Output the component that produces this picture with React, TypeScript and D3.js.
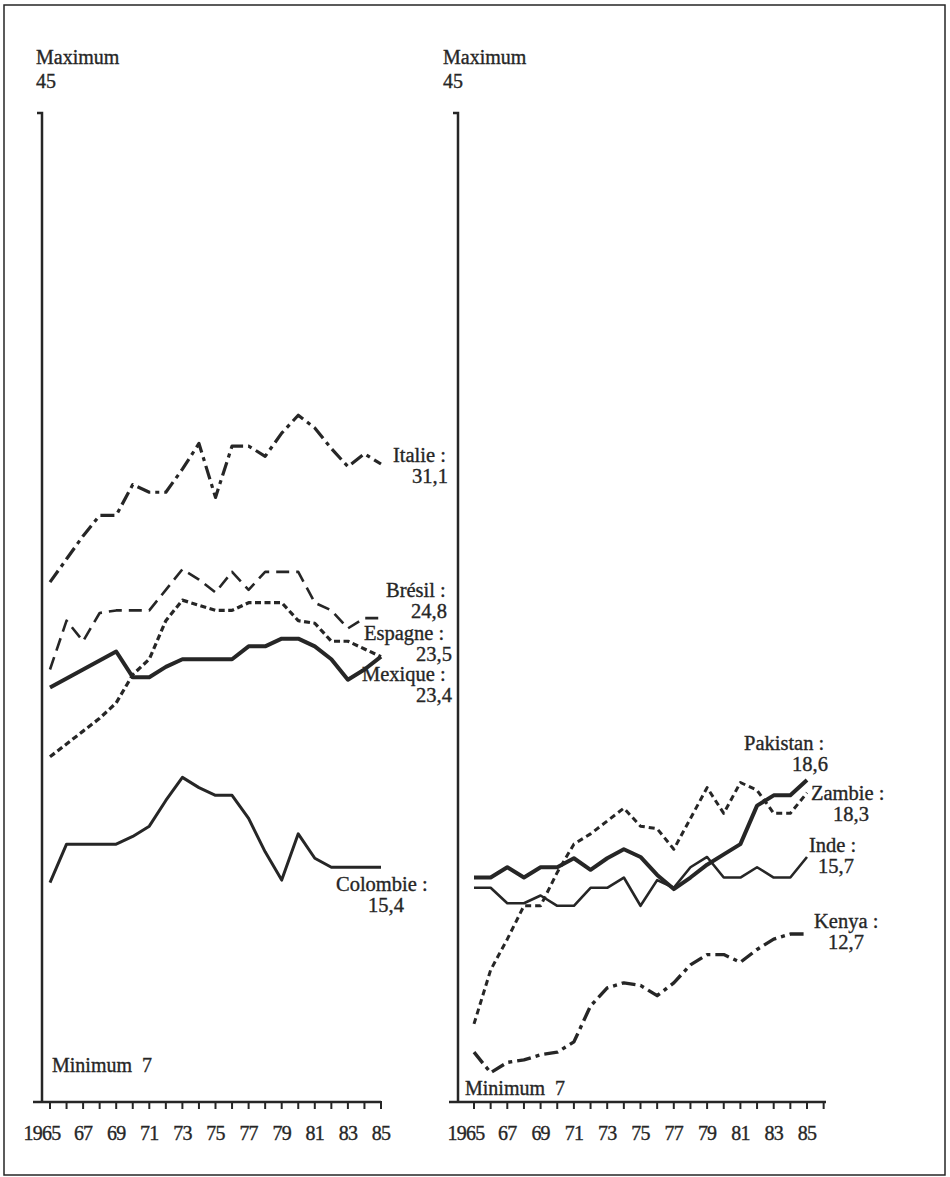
import React from 'react';
import * as d3 from 'd3';

// years on the axis
const years = [1965, 1966, 1967, 1968, 1969, 1970, 1971, 1972, 1973, 1974, 1975, 1976, 1977, 1978, 1979, 1980, 1981, 1982, 1983, 1984, 1985];
const yearLabels = ['1965', '67', '69', '71', '73', '75', '77', '79', '81', '83', '85'];

// left panel
const italie = [26.5, 27.4, 28.3, 29.1, 29.1, 30.3, 30.0, 30.0, 30.9, 31.9, 29.8, 31.8, 31.8, 31.4, 32.3, 33.0, 32.5, 31.7, 31.0, 31.5, 31.1];
const bresil = [23.1, 25.0, 24.2, 25.3, 25.4, 25.4, 25.4, 26.2, 27.0, 26.6, 26.1, 26.9, 26.2, 26.9, 26.9, 26.9, 25.7, 25.4, 24.7, 25.1, 25.1];
const espagne = [19.7, 20.2, 20.7, 21.2, 21.8, 22.9, 23.5, 25.0, 25.8, 25.6, 25.4, 25.4, 25.7, 25.7, 25.7, 25.0, 24.9, 24.2, 24.2, 23.9, 23.6];
const mexique = [22.4, 22.75, 23.1, 23.45, 23.8, 22.8, 22.8, 23.2, 23.5, 23.5, 23.5, 23.5, 24.0, 24.0, 24.3, 24.3, 24.0, 23.5, 22.7, 23.1, 23.6];
const colombie = [14.8, 16.3, 16.3, 16.3, 16.3, 16.6, 17.0, 18.0, 18.9, 18.5, 18.2, 18.2, 17.3, 16.0, 14.9, 16.7, 15.75, 15.4, 15.4, 15.4, 15.4];

// right panel
const pakistan = [15.0, 15.0, 15.4, 15.0, 15.4, 15.4, 15.75, 15.3, 15.75, 16.1, 15.8, 15.1, 14.55, 15.0, 15.5, 15.9, 16.3, 17.8, 18.2, 18.2, 18.8];
const zambie = [9.3, 11.4, 12.6, 13.9, 13.9, 15.2, 16.3, 16.7, 17.2, 17.7, 17.0, 16.9, 16.1, 17.3, 18.5, 17.5, 18.7, 18.4, 17.5, 17.5, 18.3];
const inde = [14.6, 14.6, 14.0, 14.0, 14.3, 13.9, 13.9, 14.6, 14.6, 15.0, 13.9, 14.9, 14.6, 15.4, 15.8, 15.0, 15.0, 15.4, 15.0, 15.0, 15.8];
const kenya = [8.2, 7.4, 7.8, 7.9, 8.1, 8.2, 8.6, 10.0, 10.7, 10.9, 10.8, 10.4, 10.9, 11.6, 12.0, 12.0, 11.7, 12.2, 12.6, 12.8, 12.8];

const INK = '#262626';
const FONT = '"Liberation Serif", "DejaVu Serif", serif';

const W = 950;
const H = 1177;
const axisY = 1102;

const y = d3.scaleLinear().domain([7, 45]).range([1083, 107]);

const panels = [
  {
    axisX: 42,
    x: d3.scaleLinear().domain([1965, 1985]).range([50, 381]),
    lastTick: 1985,
    axisEnd: 381,
    maxX: 36,
    minX: 52,
    minY: 1072,
    series: [
      { name: 'Italie', values: italie, width: 3.2, dash: '14 5 4 5' },
      { name: 'Brésil', values: bresil, width: 2.6, dash: '13 7' },
      { name: 'Espagne', values: espagne, width: 3.2, dash: '6 3.5' },
      { name: 'Mexique', values: mexique, width: 4, dash: null },
      { name: 'Colombie', values: colombie, width: 3, dash: null },
    ],
    labels: [
      { t: 'Italie :', v: '31,1', x: 393, y: 462, vx: 412 },
      { t: 'Brésil :', v: '24,8', x: 386, y: 597, vx: 411 },
      { t: 'Espagne :', v: '23,5', x: 364, y: 640, vx: 416 },
      { t: 'Mexique :', v: '23,4', x: 362, y: 681, vx: 416 },
      { t: 'Colombie :', v: '15,4', x: 336, y: 891, vx: 368 },
    ],
  },
  {
    axisX: 458,
    x: d3.scaleLinear().domain([1965, 1985]).range([474, 807]),
    lastTick: 1986,
    axisEnd: 826,
    maxX: 443,
    minX: 465,
    minY: 1095,
    series: [
      { name: 'Pakistan', values: pakistan, width: 4, dash: null },
      { name: 'Zambie', values: zambie, width: 3, dash: '6 4' },
      { name: 'Inde', values: inde, width: 2.6, dash: null },
      { name: 'Kenya', values: kenya, width: 3.4, dash: '14 5 4 5' },
    ],
    labels: [
      { t: 'Pakistan :', v: '18,6', x: 744, y: 750, vx: 792 },
      { t: 'Zambie :', v: '18,3', x: 811, y: 800, vx: 833 },
      { t: 'Inde :', v: '15,7', x: 809, y: 852, vx: 818 },
      { t: 'Kenya :', v: '12,7', x: 814, y: 928, vx: 828 },
    ],
  },
];

const Panel = ({ p }: { p: any }) => {
  const line = d3
    .line<number>()
    .x((_, i) => p.x(years[i]))
    .y((d) => y(d));
  const ticks = d3.range(1965, p.lastTick + 1);
  return (
    <g>
      <g fontSize={20} stroke={INK} strokeWidth={0.35}>
        <text x={p.maxX} y={64}>Maximum</text>
        <text x={p.maxX} y={88}>45</text>
        <text x={p.minX} y={p.minY}>Minimum&#160;&#160;7</text>
      </g>
      <path d={`M${p.axisX - 5},113H${p.axisX}V${axisY}`} fill="none" stroke={INK} strokeWidth={2.5} />
      <line x1={p.axisX - 9} x2={p.axisEnd} y1={axisY} y2={axisY} stroke={INK} strokeWidth={2.5} />
      {ticks.map((t: number) => (
        <line key={t} x1={p.x(t)} x2={p.x(t)} y1={axisY - 1} y2={axisY + 7} stroke={INK} strokeWidth={2} />
      ))}
      <g fontSize={20} stroke={INK} strokeWidth={0.35} textAnchor="middle" letterSpacing={-0.8}>
        {yearLabels.map((l, i) => (
          <text key={l} x={p.x(1965 + i * 2) - (i === 0 ? 8 : 0)} y={1140}>
            {l}
          </text>
        ))}
      </g>
      {p.series.map((s: any) => (
        <path
          key={s.name}
          d={line(s.values) || ''}
          fill="none"
          stroke={INK}
          strokeWidth={s.width}
          strokeDasharray={s.dash || undefined}
          strokeLinejoin="round"
        />
      ))}
      {p.labels.map((l: any) => (
        <g key={l.t} fontSize={20.5} stroke={INK} strokeWidth={0.35}>
          <text x={l.x} y={l.y}>{l.t}</text>
          <text x={l.vx} y={l.y + 21}>{l.v}</text>
        </g>
      ))}
    </g>
  );
};

export default function App() {
  return (
    <svg
      width={W}
      height={H}
      style={{ position: 'absolute', left: 0, top: 0, background: '#fff' }}
      fontFamily={FONT}
      fill={INK}
    >
      <rect x={4} y={5} width={941} height={1170} fill="none" stroke={INK} strokeWidth={1.5} />
      {panels.map((p, i) => (
        <Panel key={i} p={p} />
      ))}
    </svg>
  );
}
